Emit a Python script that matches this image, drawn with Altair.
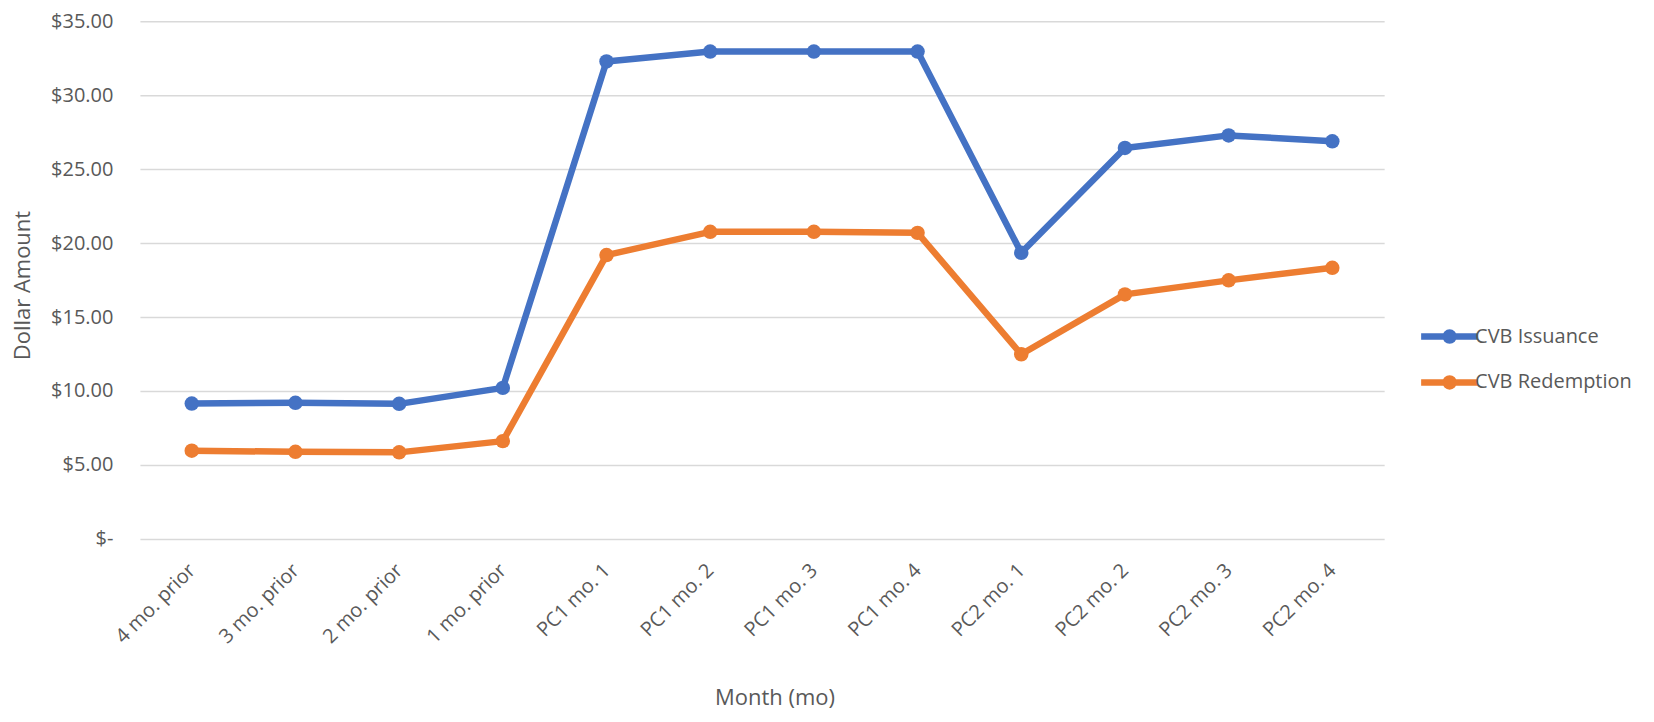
import altair as alt
import pandas as pd

months = ["4 mo. prior", "3 mo. prior", "2 mo. prior", "1 mo. prior",
          "PC1 mo. 1", "PC1 mo. 2", "PC1 mo. 3", "PC1 mo. 4",
          "PC2 mo. 1", "PC2 mo. 2", "PC2 mo. 3", "PC2 mo. 4"]
issuance = [9.15, 9.20, 9.13, 10.21, 32.28, 32.95, 32.95, 32.95, 19.34, 26.43, 27.28, 26.88]
redemption = [5.96, 5.89, 5.85, 6.61, 19.19, 20.76, 20.76, 20.69, 12.48, 16.53, 17.48, 18.33]
series_names = ["CVB Issuance", "CVB Redemption"]
series_colors = ["#4472C4", "#ED7D31"]
y_ticks = [0, 5, 10, 15, 20, 25, 30, 35]

rows = []
for name, vals in zip(series_names, [issuance, redemption]):
    for m, v in zip(months, vals):
        rows.append({"Month": m, "Series": name, "Value": v})
df = pd.DataFrame(rows)

font = "Open Sans"
text_color = "#595959"
legend_path = "M-2,0L2,0M-0.28,0A0.28,0.28,0,1,1,0.28,0A0.28,0.28,0,1,1,-0.28,0Z"

chart = alt.Chart(df).mark_line(
    strokeWidth=6.5, strokeJoin="round", strokeCap="round",
    point=alt.OverlayMarkDef(size=210, filled=True, opacity=1),
).encode(
    x=alt.X("Month:N", sort=months,
            scale=alt.Scale(type="point", padding=0.5),
            axis=alt.Axis(title="Month (mo)", labelAngle=-45, labelAlign="right",
                          labelBaseline="middle", labelPadding=28,
                          labelFont=font, labelFontSize=20, labelColor=text_color,
                          domain=False, ticks=False, grid=False,
                          titleFont=font, titleFontSize=22, titleFontWeight="normal",
                          titleColor=text_color, titleX=635, titleY=159,
                          titleAlign="center", titleBaseline="middle")),
    y=alt.Y("Value:Q",
            scale=alt.Scale(domain=[0, 35], nice=False),
            axis=alt.Axis(title="Dollar Amount", values=y_ticks,
                          labelExpr="datum.value == 0 ? '$-\u00a0\u00a0' : '$' + format(datum.value, '.2f')",
                          labelFont=font, labelFontSize=20, labelColor=text_color,
                          labelPadding=27, domain=False, ticks=False,
                          grid=True, gridColor="#D9D9D9", gridWidth=1.5,
                          titleFont=font, titleFontSize=22, titleFontWeight="normal",
                          titleColor=text_color, titleAngle=-90, titleX=-117, titleY=264,
                          titleAlign="center", titleBaseline="middle")),
    color=alt.Color("Series:N",
                    scale=alt.Scale(domain=series_names, range=series_colors),
                    legend=alt.Legend(title=None, orient="none", legendX=1293, legendY=298,
                                      symbolType=legend_path, symbolSize=812,
                                      symbolStrokeWidth=6.5, labelFont=font,
                                      labelFontSize=20, labelColor=text_color,
                                      labelOffset=8, rowPadding=11, padding=0)),
).properties(
    width=1245, height=518,
    autosize=alt.AutoSizeParams(type="none"),
    padding={"left": 132, "top": 13, "right": 262, "bottom": 180},
).configure_view(strokeWidth=0)

chart.save("out.html", embed_options={"renderer": "svg", "actions": False})
